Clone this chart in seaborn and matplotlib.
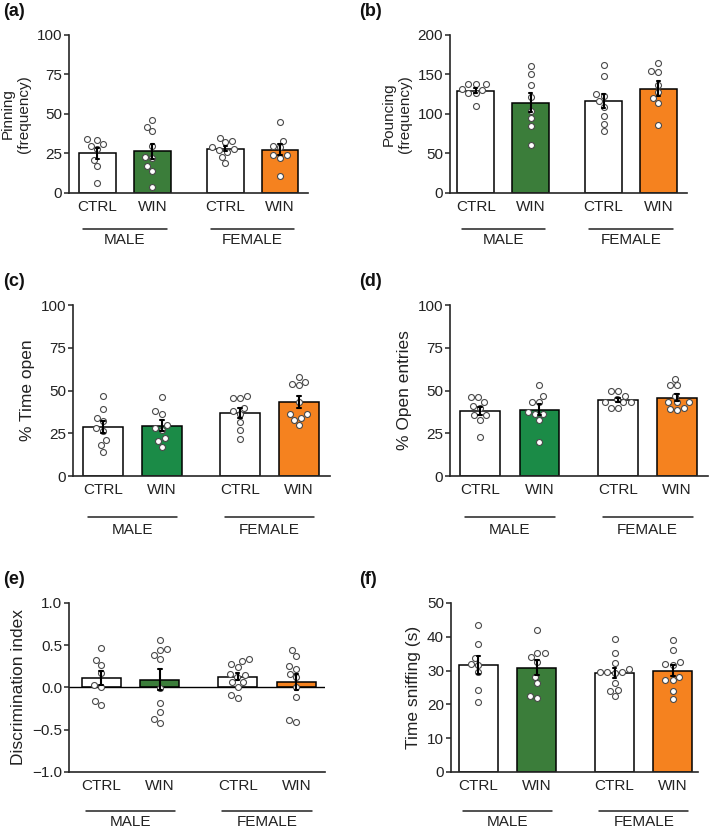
import numpy as np
import pandas as pd
import matplotlib
matplotlib.use('Agg')
import matplotlib.pyplot as plt
import matplotlib.transforms as mtransforms
import seaborn as sns

# group order and bar layout
groups = ['MALE CTRL', 'MALE WIN', 'FEMALE CTRL', 'FEMALE WIN']
bar_pos = [0, 1, 2.33, 3.33]
tick_labels = ['CTRL', 'WIN', 'CTRL', 'WIN']
sex_labels = ['MALE', 'FEMALE']

# individual animals (order: M CTRL, M WIN, F CTRL, F WIN)
pinning = [
    [31, 33.5, 34, 30, 28, 21, 17, 6],
    [46, 42, 39, 30, 22, 23, 17, 14, 4],
    [35, 32, 33, 29, 27, 26, 28, 23, 19],
    [45, 33, 30, 29, 24, 24, 22, 11],
]
pouncing = [
    [131, 138, 138, 138, 126, 126, 130, 110],
    [161, 151, 137, 122, 104, 95, 85, 61],
    [162, 148, 125, 123, 116, 109, 97, 87, 78],
    [165, 154, 153, 137, 128, 120, 114, 86],
]
time_open = [
    [47, 39, 34, 32, 28, 26.5, 21, 18, 14],
    [46, 38, 36.5, 30, 27, 28, 22, 20.5, 17],
    [45.5, 45.5, 46.5, 40, 36.5, 38, 31.5, 27, 21.5],
    [58, 54, 53, 55, 43.5, 36.5, 36, 34, 33, 30],
]
open_entries = [
    [43.5, 46, 46, 40, 41, 35.5, 33, 35.5, 23],
    [53, 46.5, 43, 43.5, 37.5, 36.5, 33, 36.5, 20],
    [50, 50, 47, 45, 43, 43, 43, 40, 40],
    [57, 53, 53, 47, 43, 40, 38.5, 39, 43, 43],
]
discrimination = [
    [0.47, 0.33, 0.27, 0.17, 0.03, 0.01, -0.16, -0.21],
    [0.56, 0.46, 0.39, 0.44, 0.34, -0.01, -0.18, -0.29, -0.37, -0.42],
    [0.28, 0.34, 0.31, 0.24, 0.16, 0.15, 0.12, 0.06, 0.07, 0.01, -0.09, -0.13],
    [0.44, 0.37, 0.22, 0.25, 0.16, 0.12, 0.0, -0.11, -0.41, -0.39],
]
sniffing = [
    [43.4, 38, 32, 31.8, 33.7, 29.6, 24.3, 20.6],
    [42, 34, 35.3, 35.3, 32.6, 28.2, 26.2, 21.8, 22.6],
    [39.3, 35.1, 32.2, 30.4, 29.5, 29.2, 29.5, 29.5, 26.4, 24.3, 24, 22.4],
    [39, 36.2, 32.5, 31.8, 32, 27.2, 27.2, 28.2, 23.9, 21.7],
]

orange = '#f5821f'
green_dark = '#3b7d3a'
green_bright = '#1b8b47'

# letter, ylabel, data, yticks, green, axes rect (fig frac), xlim, line/label offsets (px)
panels = [
    ('(a)', 'Pinning\n(frequency)', pinning, [0, 25, 50, 75, 100], green_dark,
     [0.0973, 0.7675, 0.3371, 0.1904], (-0.52, 3.84), 36, 47, 11),
    ('(b)', 'Pouncing\n(frequency)', pouncing, [0, 50, 100, 150, 200], green_dark,
     [0.6347, 0.7675, 0.3343, 0.1904], (-0.47, 3.85), 36, 47, 11),
    ('(c)', '% Time open', time_open, [0, 25, 50, 75, 100], green_bright,
     [0.1030, 0.4265, 0.3625, 0.2060], (-0.51, 3.86), 41, 54, 12.5),
    ('(d)', '% Open entries', open_entries, [0, 25, 50, 75, 100], green_bright,
     [0.6347, 0.4265, 0.3639, 0.2060], (-0.51, 3.85), 41, 54, 12.5),
    ('(e)', 'Discrimination index', discrimination, [-1.0, -0.5, 0.0, 0.5, 1.0], green_dark,
     [0.0973, 0.0699, 0.3611, 0.2036], (-0.55, 3.82), 39, 50, 12.5),
    ('(f)', 'Time sniffing (s)', sniffing, [0, 10, 20, 30, 40, 50], green_dark,
     [0.6361, 0.0699, 0.3484, 0.2036], (-0.47, 3.76), 39, 50, 12.5),
]

sns.set_theme(style='ticks')
plt.rcParams['font.family'] = ['Liberation Sans', 'DejaVu Sans']
plt.rcParams['axes.linewidth'] = 1.2

fig = plt.figure(figsize=(7.09, 8.30), dpi=100)


def make_df(values):
    rows = []
    for g, p, vals in zip(groups, bar_pos, values):
        for v in vals:
            rows.append((g, p, v))
    return pd.DataFrame(rows, columns=['group', 'pos', 'value'])


for letter, ylabel, values, yticks, green, rect, xlim, line_dy, lab_dy, ylab_size in panels:
    ax = fig.add_axes(rect)
    df = make_df(values)
    pal = {'MALE CTRL': 'white', 'MALE WIN': green,
           'FEMALE CTRL': 'white', 'FEMALE WIN': orange}

    sns.barplot(data=df, x='pos', y='value', hue='group', palette=pal,
                native_scale=True, width=0.67, saturation=1,
                errorbar='se', capsize=0.06,
                err_kws={'color': 'black', 'linewidth': 1.5, 'zorder': 4},
                edgecolor='black', linewidth=1.1, legend=False, ax=ax)
    sns.swarmplot(data=df, x='pos', y='value', native_scale=True,
                  color='white', edgecolor='#4a4a4a', linewidth=0.8,
                  size=4.3, zorder=3, warn_thresh=1, ax=ax)

    if yticks[0] < 0:
        ax.axhline(0, color='black', linewidth=1.0, zorder=2)

    ax.set_xlim(*xlim)
    ax.set_ylim(yticks[0], yticks[-1])
    ax.set_yticks(yticks)
    if letter == '(e)':
        ax.set_yticklabels([f'{t:.1f}'.replace('-', '\u2212') for t in yticks])
    ax.set_xticks(bar_pos)
    ax.set_xticklabels(tick_labels)
    ax.set_xlabel('')
    ax.set_ylabel(ylabel, fontsize=ylab_size, color='#222222', labelpad=4)
    ax.tick_params(axis='x', length=0, pad=5, labelsize=11, labelcolor='#222222')
    ax.tick_params(axis='y', length=3.5, width=1.1, pad=1.5, labelsize=11,
                   labelcolor='#222222')
    sns.despine(ax=ax)

    # MALE / FEMALE group bars under the tick labels
    for name, (p0, p1) in zip(sex_labels, [(bar_pos[0], bar_pos[1]), (bar_pos[2], bar_pos[3])]):
        mid = (p0 + p1) / 2
        t_line = ax.get_xaxis_transform() + mtransforms.ScaledTranslation(
            0, -line_dy / 100, fig.dpi_scale_trans)
        t_lab = ax.get_xaxis_transform() + mtransforms.ScaledTranslation(
            0, -lab_dy / 100, fig.dpi_scale_trans)
        ax.plot([mid - 0.76, mid + 0.76], [0, 0], color='#222222', linewidth=1.1,
                transform=t_line, clip_on=False)
        ax.text(mid, 0, name, transform=t_lab, ha='center', va='center',
                fontsize=11, color='#222222')

    # panel letter
    x0 = 0.004 if rect[0] < 0.5 else 0.507
    top = rect[1] + rect[3]
    fig.text(x0, top + 0.028, letter, fontsize=13, fontweight='bold',
             ha='left', va='center', color='#111111')

fig.savefig('out.png', dpi=100)
